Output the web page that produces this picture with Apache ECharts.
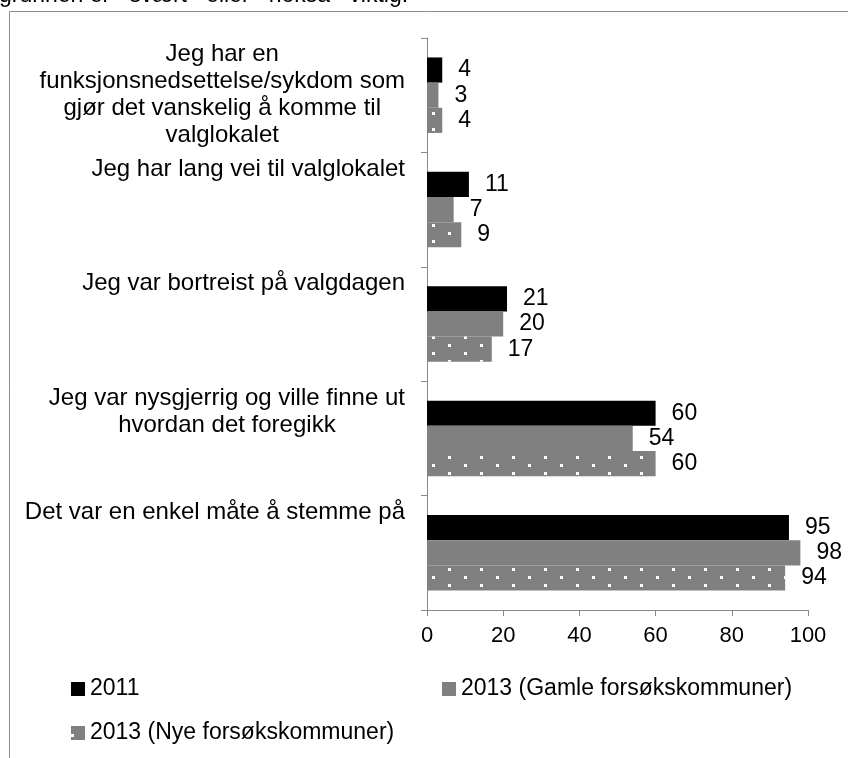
<!DOCTYPE html>
<html>
<head>
<meta charset="utf-8">
<script src="https://cdn.jsdelivr.net/npm/echarts@6/dist/echarts.min.js"></script>
<style>
  html, body { margin: 0; padding: 0; background: #fff; }
  #chart { width: 848px; height: 758px; }
</style>
</head>
<body>
<div id="chart"></div>
<script>
// kategorier (linjeskift som i originalen)
var categories = [
    'Jeg har en\nfunksjonsnedsettelse/sykdom som\ngjør det vanskelig å komme til\nvalglokalet',
    'Jeg har lang vei til valglokalet',
    'Jeg var bortreist på valgdagen',
    'Jeg var nysgjerrig og ville finne ut\nhvordan det foregikk',
    'Det var en enkel måte å stemme på'
];
var seriesNames = ['2011', '2013 (Gamle forsøkskommuner)', '2013 (Nye forsøkskommuner)'];
var values2011 = [4, 11, 21, 60, 95];
var valuesGamle = [3, 7, 20, 54, 98];
var valuesNye = [4, 9, 17, 60, 94];
var xTicks = [0, 20, 40, 60, 80, 100];

var font = 'Liberation Sans, Arial, sans-serif';
var axisGray = '#898989';

var myChart = echarts.init(document.getElementById('chart'));

var labelStyle = {
    show: true,
    position: 'right',
    distance: 16,
    fontFamily: font,
    fontSize: 23,
    color: '#000'
};

option = {
    animation: false,
    textStyle: { fontFamily: font },
    graphic: [
        {
            type: 'rect',
            shape: { x: 9.5, y: 11.5, width: 900, height: 900 },
            style: { fill: 'none', stroke: '#8c8c8c', lineWidth: 1 },
            silent: true
        },
        {
            type: 'text',
            x: -1,
            y: -4,
            style: {
                text: 'grunnen er «svært» eller «nokså» viktig.',
                font: '23px ' + font,
                fill: '#000',
                verticalAlign: 'middle'
            },
            silent: true
        }
    ],
    grid: {
        left: 427,
        right: 40,
        top: 38,
        bottom: 148,
        containLabel: false
    },
    legend: [
        {
            data: [seriesNames[0]],
            left: 71, top: 677, padding: 0,
            itemWidth: 14, itemHeight: 14, icon: 'rect',
            textStyle: { fontFamily: font, fontSize: 23, color: '#000', lineHeight: 24 }
        },
        {
            data: [seriesNames[1]],
            left: 442, top: 677, padding: 0,
            itemWidth: 14, itemHeight: 14, icon: 'rect',
            textStyle: { fontFamily: font, fontSize: 23, color: '#000', lineHeight: 24 }
        },
        {
            data: [seriesNames[2]],
            left: 71, top: 721, padding: 0,
            itemWidth: 14, itemHeight: 14, icon: 'rect',
            textStyle: { fontFamily: font, fontSize: 23, color: '#000', lineHeight: 24 }
        }
    ],
    xAxis: {
        type: 'value',
        min: 0,
        max: 100,
        interval: 20,
        splitLine: { show: false },
        axisLine: { show: true, lineStyle: { color: axisGray, width: 1 } },
        axisTick: { show: true, length: 6, lineStyle: { color: axisGray } },
        axisLabel: {
            margin: 15,
            fontFamily: font,
            fontSize: 22,
            color: '#000',
            formatter: function (v) { return xTicks.indexOf(v) >= 0 ? String(v) : ''; }
        }
    },
    yAxis: {
        type: 'category',
        inverse: true,
        data: categories,
        axisLine: { show: true, lineStyle: { color: axisGray, width: 1 } },
        axisTick: { show: true, length: 6, lineStyle: { color: axisGray } },
        axisLabel: {
            margin: 22,
            align: 'right',
            verticalAlign: 'middle',
            formatter: function (v) {
                var lines = v.split('\n');
                var out = lines.map(function (l) { return '{c|' + l + '}'; });
                while (out.length < 4) out.push('{c| }');
                return out.join('\n');
            },
            rich: {
                c: {
                    align: 'center',
                    fontFamily: font,
                    fontSize: 24,
                    lineHeight: 27,
                    color: '#000'
                }
            }
        }
    },
    series: [
        {
            name: seriesNames[0],
            type: 'bar',
            data: values2011,
            barGap: '0%',
            barCategoryGap: '34%',
            itemStyle: { color: '#000000' },
            label: labelStyle
        },
        {
            name: seriesNames[1],
            type: 'bar',
            data: valuesGamle,
            itemStyle: { color: '#808080' },
            label: labelStyle
        },
        {
            name: seriesNames[2],
            type: 'bar',
            data: valuesNye,
            itemStyle: {
                color: '#808080',
                decal: {
                    symbol: 'rect',
                    symbolSize: 1,
                    color: '#ffffff',
                    dashArrayX: [[3, 29], [0, 16, 3, 13]],
                    dashArrayY: [3, 5]
                }
            },
            label: labelStyle
        }
    ]
};

myChart.setOption(option);
</script>
</body>
</html>
